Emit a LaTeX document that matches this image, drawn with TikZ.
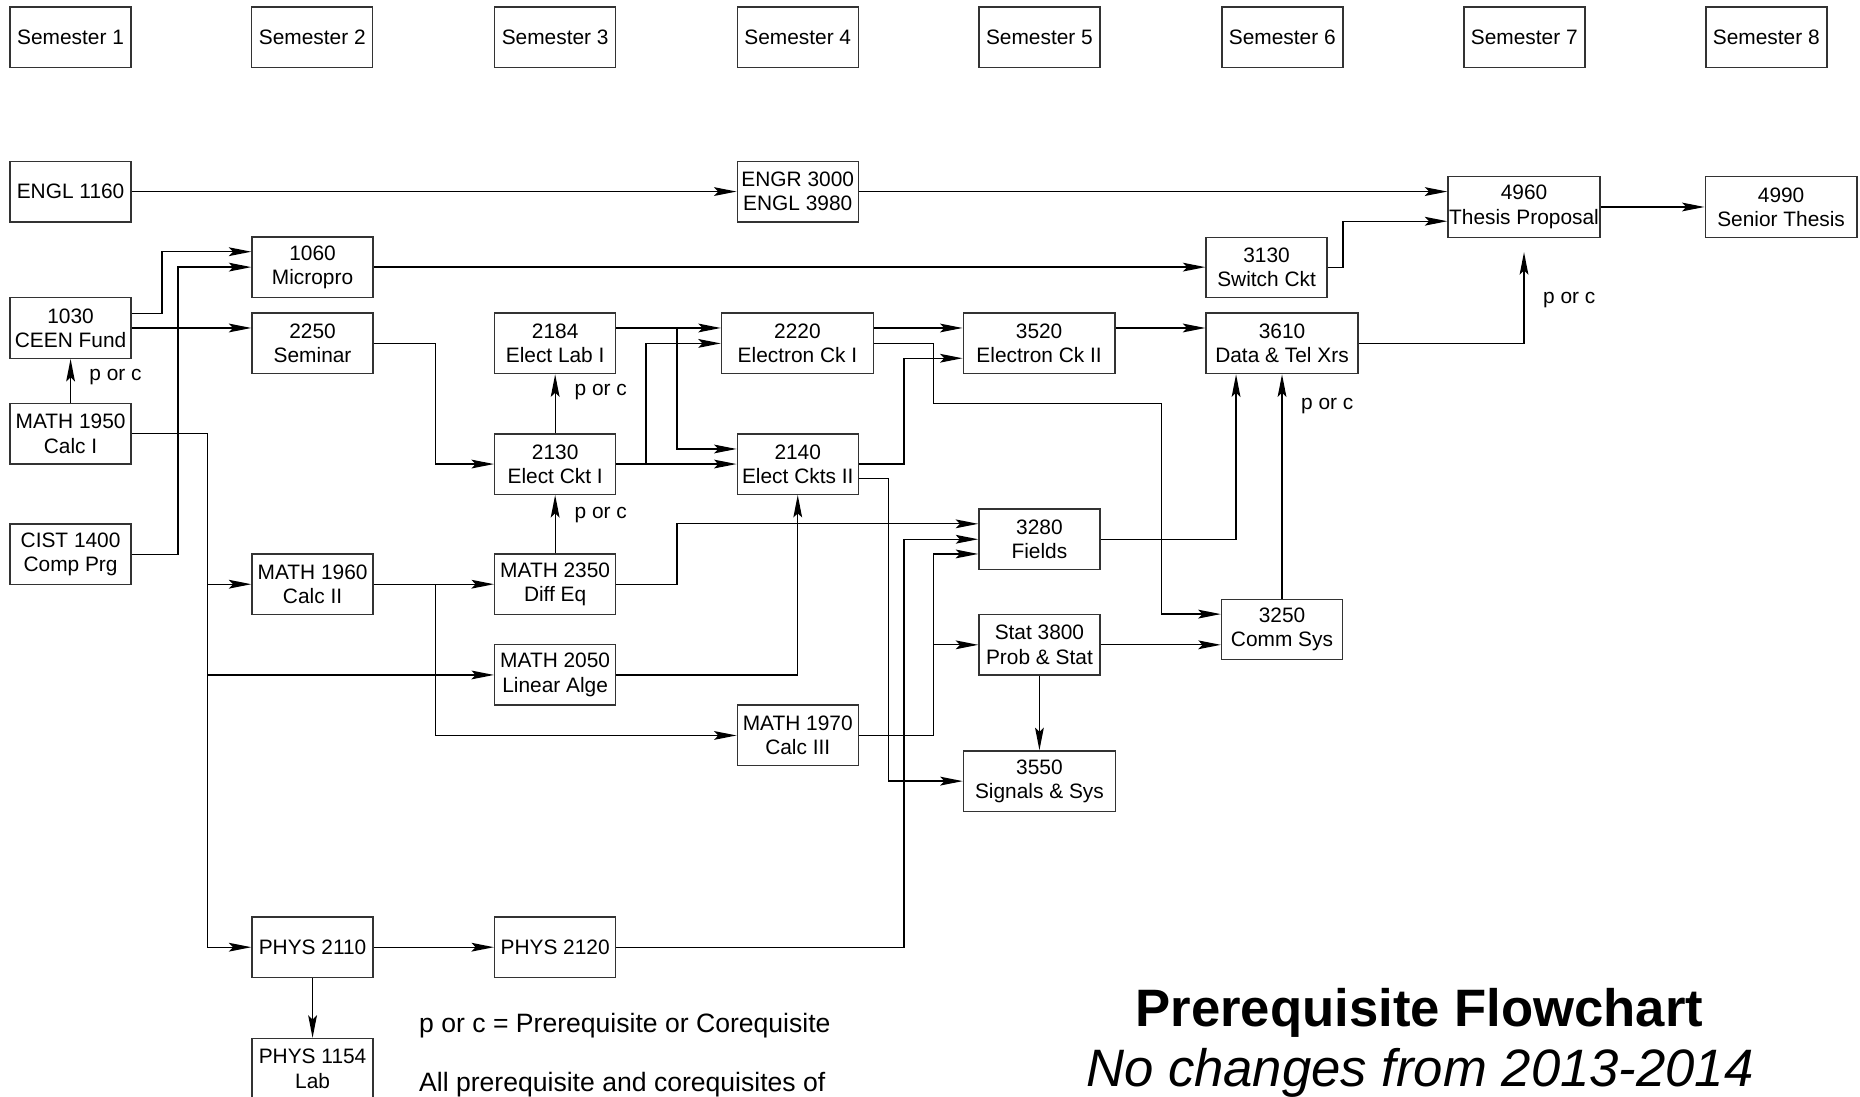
\documentclass[tikz,border=0pt]{standalone}
\usepackage{fontspec}
\setmainfont{Liberation Sans}
\usetikzlibrary{arrows.meta,calc}
\tikzset{
  box/.style={draw=black!80, line width=0.6pt, minimum width=51pt, minimum height=25.5pt,
    inner sep=0pt, align=center, font=\fontsize{8.8}{10.25}\selectfont},
  wbox/.style={box, minimum width=64pt},
  arr/.style={draw=black, line width=0.55pt, -{Stealth[length=9.5pt,width=3.7pt,inset=1.8pt]}},
  porc/.style={anchor=base west, inner sep=0pt, font=\fontsize{8.8}{10}\selectfont},
  legend/.style={anchor=base west, inner sep=0pt, font=\fontsize{11.2}{13}\selectfont},
}
\begin{document}
\begin{tikzpicture}[x=0.5pt,y=-0.5pt]
\fill[white] (0,0) rectangle (1568,924);
\useasboundingbox (0,0) rectangle (1568,924);

% semesters
\node[box] (sem1) at (59.5,31.5) {Semester 1};
\node[box] (sem2) at (263.25,31.5) {Semester 2};
\node[box] (sem3) at (468,31.5) {Semester 3};
\node[box] (sem4) at (672.5,31.5) {Semester 4};
\node[box] (sem5) at (876.25,31.5) {Semester 5};
\node[box] (sem6) at (1081,31.5) {Semester 6};
\node[box] (sem7) at (1285,31.5) {Semester 7};
\node[box] (sem8) at (1489,31.5) {Semester 8};

% courses
\node[box] (engl) at (59.5,161.5) {ENGL 1160};
\node[box] (engr) at (672.5,161.5) {ENGR 3000\\ENGL 3980};
\node[wbox] (t4960) at (1284.75,174.5) {4960\\Thesis Proposal};
\node[wbox] (t4990) at (1501.5,174.5) {4990\\Senior Thesis};
\node[box] (m1060) at (263.5,225.2) {1060\\Micropro};
\node[box] (s3130) at (1067.75,225.5) {3130\\Switch Ckt};
\node[box] (c1030) at (59.5,276.5) {1030\\CEEN Fund};
\node[box] (s2250) at (263.5,289.3) {2250\\Seminar};
\node[box] (l2184) at (468,289.5) {2184\\Elect Lab I};
\node[wbox] (e2220) at (672.25,289.5) {2220\\Electron Ck I};
\node[wbox] (e3520) at (876,289.5) {3520\\Electron Ck II};
\node[wbox] (d3610) at (1080.75,289.5) {3610\\Data \& Tel Xrs};
\node[box] (m1950) at (59.5,365.7) {MATH 1950\\Calc I};
\node[box] (e2130) at (468,391.2) {2130\\Elect Ckt I};
\node[box] (e2140) at (672.5,391.2) {2140\\Elect Ckts II};
\node[box] (cist) at (59.5,467.3) {CIST 1400\\Comp Prg};
\node[box] (f3280) at (876.25,454.6) {3280\\Fields};
\node[box] (m1960) at (263.5,492.5) {MATH 1960\\Calc II};
\node[box] (m2350) at (468,492.5) {MATH 2350\\Diff Eq};
\node[box] (m2050) at (468,569) {MATH 2050\\Linear Alge};
\node[box] (m1970) at (672.5,620) {MATH 1970\\Calc III};
\node[box] (stat) at (876.25,543.6) {Stat 3800\\Prob \& Stat};
\node[box] (c3250) at (1080.75,530.7) {3250\\Comm Sys};
\node[wbox] (s3550) at (876.25,658.5) {3550\\Signals \& Sys};
\node[box] (p2110) at (263.5,798.5) {PHYS 2110};
\node[box] (p2120) at (468,798.5) {PHYS 2120};
\node[box] (p1154) at (263.5,901) {PHYS 1154\\Lab};

% junction points
\coordinate (j2184) at ($(l2184.east)+(51,-13)$);
\coordinate (j2130) at ($(e2130.east)+(25,0)$);
\coordinate (bus) at ($(m1950.east)+(64,0)$);
\coordinate (j1960) at ($(m1960.east)+(52,0)$);
\coordinate (j1970) at ($(m1970.east)+(63,0)$);

% connectors
\draw[arr] (engl.east) -- (engl.east -| engr.west);
\draw[arr] (engr.east) -- (engr.east -| t4960.west);
\draw[arr] (s3130.east) -- ++(12.75,0) |- ($(t4960.west)+(0,12)$);
\draw[arr] (t4960.east) -- (t4990.west);
\draw[arr] (d3610.east) -| ($(t4960.south)+(0,12)$);
\draw[arr] (m1060.east) -- (m1060.east -| s3130.west);
\draw[arr] ($(c1030.east)+(0,-12.5)$) -- ++(25.5,0) |- ($(m1060.west)+(0,-13)$);
\draw[arr] (cist.east) -- ++(39,0) |- (m1060.west);
\draw[arr] (c1030.east) -- (c1030.east -| s2250.west);
\draw[arr] (m1950.north) -- (c1030.south);
\draw[arr] (s2250.east) -- ++(52,0) |- (e2130.west);
\draw[arr] (e2130.north) -- (l2184.south);
\draw[arr] (m2350.north) -- (e2130.south);
\draw[arr] ($(l2184.east)+(0,-13)$) -- ($(e2220.west)+(0,-13)$);
\draw[arr] (j2184) |- ($(e2140.west)+(0,-12.7)$);
\draw[arr] (e2130.east) -- (e2140.west);
\draw[arr] (j2130) |- (e2220.west);
\draw[arr] ($(e2220.east)+(0,-13)$) -- ($(e3520.west)+(0,-13)$);
\draw[arr] (e2220.east) -- ++(50.25,0) |- (979,340) |- ($(c3250.west)+(0,-13)$);
\draw[arr] (e2140.east) -- ++(38,0) |- ($(e3520.west)+(0,12.5)$);
\draw[arr] ($(e2140.east)+(0,12.3)$) -- ++(25,0) |- (s3550.west);
\draw[arr] ($(e3520.east)+(0,-13)$) -- ($(d3610.west)+(0,-13)$);
\draw[arr] (f3280.east) -| ($(d3610.south)+(-38.75,0)$);
\draw[arr] (c3250.north) -- (c3250.north |- d3610.south);
\draw[arr] (m2350.east) -- ++(51,0) |- ($(f3280.west)+(0,-13)$);
\draw[arr] (m2050.east) -| (e2140.south);
\draw[arr] (m1960.east) -- (m2350.west);
\draw[arr] (j1960) |- (m1970.west);
\draw[arr] (m1950.east) -- (bus) |- (p2110.west);
\draw[arr] (bus |- m1960.west) -- (m1960.west);
\draw[arr] (bus |- m2050.west) -- (m2050.west);
\draw[arr] (p2110.east) -- (p2120.west);
\draw[arr] (p2110.south) -- (p1154.north);
\draw[arr] (p2120.east) -- ++(242.5,0) |- (f3280.west);
\draw[arr] (m1970.east) -- (j1970) |- ($(f3280.west)+(0,12.4)$);
\draw[arr] (j1970 |- stat.west) -- (stat.west);
\draw[arr] (stat.east) -- (stat.east -| c3250.west);
\draw[arr] (stat.south) -- (s3550.north);

% p or c labels
\node[porc] (pc1) at (75,320.5) {p or c};
\node[porc] (pc2) at (484,333) {p or c};
\node[porc] (pc3) at (484,437) {p or c};
\node[porc] (pc4) at (1300.5,256) {p or c};
\node[porc] (pc5) at (1096.5,345.5) {p or c};

% legend and title
\node[legend] (leg1) at (353,870.5) {p or c = Prerequisite or Corequisite};
\node[legend] (leg2) at (353,920) {All prerequisite and corequisites of};
\node[anchor=base, inner sep=0pt, font=\fontsize{22.2}{25}\selectfont\bfseries] (title) at (1196.5,865) {Prerequisite Flowchart};
\node[anchor=base, inner sep=0pt, font=\fontsize{22.2}{25}\selectfont\itshape] (sub) at (1197,916) {No changes from 2013-2014};
\end{tikzpicture}
\end{document}
